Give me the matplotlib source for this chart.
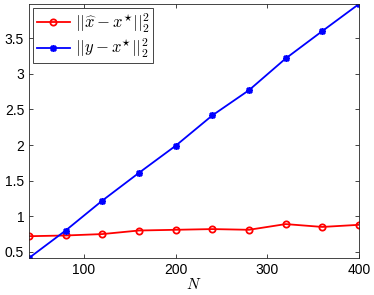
import matplotlib
matplotlib.use("Agg")
import matplotlib.pyplot as plt

# sample sizes and squared errors
N = [40, 80, 120, 160, 200, 240, 280, 320, 360, 400]
err_xhat = [0.72, 0.73, 0.75, 0.80, 0.81, 0.82, 0.81, 0.89, 0.85, 0.88]
err_y = [0.414, 0.80, 1.22, 1.61, 1.99, 2.416, 2.77, 3.215, 3.60, 3.98]

plt.rcParams['font.family'] = ['Liberation Sans', 'DejaVu Sans']
plt.rcParams['mathtext.fontset'] = 'cm'

fig = plt.figure(figsize=(3.74, 2.95), dpi=100)
ax = fig.add_axes([29 / 374, 1 - 258 / 295, 330 / 374, 254 / 295])

ax.plot(N, err_xhat, color='red', lw=1.3, marker='o', ms=4.5,
        mfc='none', mew=1.3, label=r'$||\widehat{x} - x^{\star}||_2^2$')
ax.plot(N, err_y, color='blue', lw=1.3, marker=(8, 2, 0), ms=5,
        mew=1.2, label=r'$||y - x^{\star}||_2^2$')

ax.set_xlim(40, 400)
ax.set_ylim(0.414, 3.98)
ax.set_xticks([100, 200, 300, 400])
ax.set_yticks([0.5, 1, 1.5, 2, 2.5, 3, 3.5])
ax.set_yticklabels(['0.5', '1', '1.5', '2', '2.5', '3', '3.5'])
ax.tick_params(direction='in', length=3, labelsize=10, top=True, right=True,
               color='#262626', width=0.6)
for s in ax.spines.values():
    s.set_color('#262626')
    s.set_linewidth(0.6)
ax.set_xlabel(r'$N$', fontsize=11, labelpad=0)

leg = ax.legend(loc='upper left', fontsize=12, fancybox=False, framealpha=1,
                borderpad=0.2, handlelength=2.0, handletextpad=0.3,
                labelspacing=0.15, borderaxespad=0.25)
leg.get_frame().set_edgecolor('#262626')
leg.get_frame().set_linewidth(0.6)

fig.savefig('out.png', dpi=100)
